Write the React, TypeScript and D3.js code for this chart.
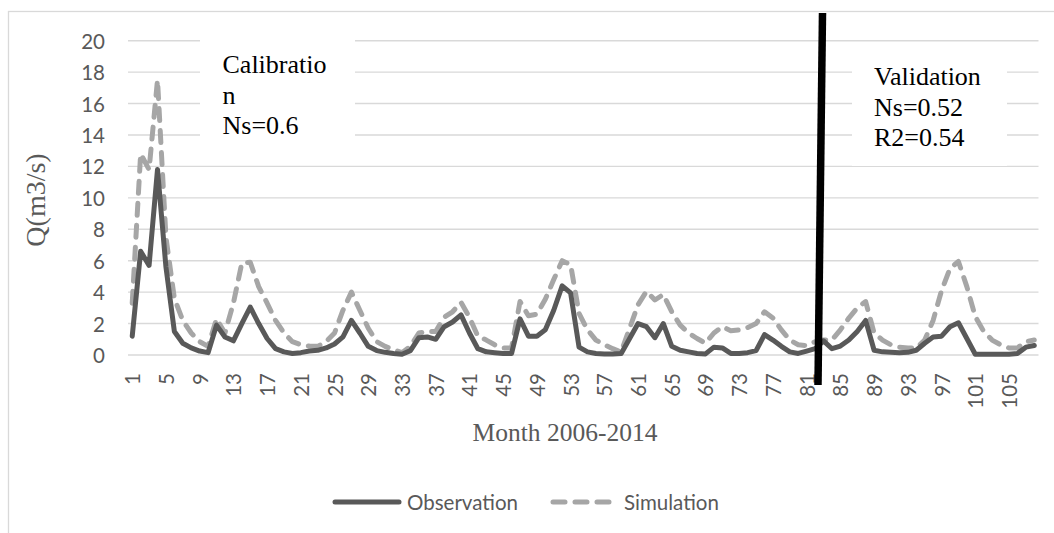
import React, { useRef, useEffect } from 'react';
import * as d3 from 'd3';

const months: number[] = Array.from({ length: 108 }, (_, i) => i + 1);

const observation: number[] = [
  1.2, 6.6, 5.7, 11.8, 5.6, 1.5, 0.75, 0.45, 0.25, 0.15,
  1.9, 1.15, 0.9, 2.0, 3.05, 2.0, 1.05, 0.4, 0.2, 0.1,
  0.15, 0.25, 0.3, 0.45, 0.7, 1.15, 2.2, 1.4, 0.55, 0.28,
  0.17, 0.1, 0.05, 0.28, 1.1, 1.15, 1.0, 1.8, 2.1, 2.55,
  1.4, 0.4, 0.2, 0.15, 0.1, 0.1, 2.3, 1.2, 1.2, 1.6,
  2.85, 4.4, 3.95, 0.5, 0.2, 0.1, 0.07, 0.07, 0.1, 1.05,
  2.0, 1.8, 1.1, 2.0, 0.55, 0.3, 0.2, 0.1, 0.07, 0.5,
  0.45, 0.1, 0.1, 0.15, 0.28, 1.3, 0.95, 0.55, 0.2, 0.1,
  0.25, 0.4, 0.9, 0.4, 0.57, 0.95, 1.5, 2.2, 0.3, 0.2,
  0.17, 0.15, 0.17, 0.3, 0.75, 1.15, 1.2, 1.8, 2.05, 1.05,
  0.05, 0.05, 0.05, 0.05, 0.05, 0.1, 0.5, 0.6,
];

const simulation: number[] = [
  3.3, 12.8, 11.8, 17.5, 7.5, 3.6, 2.2, 1.4, 0.85, 0.55,
  2.3, 1.4, 3.3, 5.85, 5.9, 4.35, 3.3, 2.2, 1.4, 0.85,
  0.65, 0.57, 0.55, 0.85, 1.4, 2.85, 4.0, 2.85, 1.7, 0.85,
  0.55, 0.33, 0.15, 0.55, 1.4, 1.5, 1.5, 2.4, 2.75, 3.35,
  2.4, 1.2, 0.95, 0.65, 0.45, 0.45, 3.4, 2.5, 2.6, 3.55,
  4.8, 6.0, 5.75, 2.65, 1.6, 0.95, 0.65, 0.4, 0.2, 1.7,
  3.2, 4.05, 3.5, 3.85, 2.75, 1.9, 1.4, 1.05, 0.75, 1.4,
  1.8, 1.55, 1.6, 1.75, 2.0, 2.75, 2.35, 1.6, 0.95, 0.65,
  0.6, 0.85, 0.95, 0.95, 1.6, 2.35, 3.0, 3.4, 1.4, 0.95,
  0.65, 0.5, 0.45, 0.45, 0.95, 2.2, 4.1, 5.5, 5.95, 4.35,
  2.45, 1.5, 0.95, 0.65, 0.45, 0.45, 0.85, 0.95,
];

const yTicks: number[] = [0, 2, 4, 6, 8, 10, 12, 14, 16, 18, 20];
const xTickLabels: number[] = months.filter((m) => (m - 1) % 4 === 0);

const calibrationText = ['Calibratio', 'n', 'Ns=0.6'];
const validationText = ['Validation', 'Ns=0.52', 'R2=0.54'];

const SANS = 'Lato, "Open Sans", sans-serif';
const SERIF = '"Liberation Serif", "Times New Roman", serif';

const App: React.FC = () => {
  const svgRef = useRef<SVGSVGElement>(null);

  useEffect(() => {
    if (!svgRef.current) return;
    const svg = d3.select(svgRef.current);
    svg.selectAll('*').remove();

    const x = d3.scaleBand<number>().domain(months).range([128, 1038.5]);
    const y = d3.scaleLinear().domain([0, 20]).range([355, 40.7]);
    const cx = (m: number) => (x(m) ?? 0) + x.bandwidth() / 2;

    // chart border
    svg.append('rect')
      .attr('x', 8.5).attr('y', 11.5)
      .attr('width', 1080).attr('height', 540)
      .attr('fill', '#fff')
      .attr('stroke', '#d9d9d9')
      .attr('stroke-width', 1.3);

    // gridlines
    svg.append('g')
      .selectAll('line')
      .data(yTicks)
      .join('line')
      .attr('x1', 128).attr('x2', 1038.5)
      .attr('y1', (d) => y(d)).attr('y2', (d) => y(d))
      .attr('stroke', '#d9d9d9')
      .attr('stroke-width', 1.4);

    // y tick labels
    svg.append('g')
      .selectAll('text')
      .data(yTicks)
      .join('text')
      .attr('x', 105)
      .attr('y', (d) => y(d))
      .attr('text-anchor', 'end')
      .attr('dominant-baseline', 'central')
      .attr('fill', '#595959')
      .style('font-family', SANS)
      .style('font-size', '20.5px')
      .text((d) => d);

    // x tick labels
    svg.append('g')
      .selectAll('text')
      .data(xTickLabels)
      .join('text')
      .attr('transform', (d) => `translate(${cx(d)},373) rotate(-90)`)
      .attr('text-anchor', 'end')
      .attr('dominant-baseline', 'central')
      .attr('fill', '#595959')
      .style('font-family', SANS)
      .style('font-size', '20.5px')
      .text((d) => d);

    // annotation boxes
    svg.append('rect').attr('x', 200).attr('y', 25).attr('width', 155).attr('height', 125).attr('fill', '#fff');
    svg.append('rect').attr('x', 852).attr('y', 55).attr('width', 155).attr('height', 111).attr('fill', '#fff');

    const addBlock = (lines: string[], left: number, base: number) => {
      lines.forEach((t, i) => {
        svg.append('text')
          .attr('x', left)
          .attr('y', base + i * 30.5)
          .attr('fill', '#000')
          .style('font-family', SERIF)
          .style('font-size', '26px')
          .text(t);
      });
    };
    addBlock(calibrationText, 222.5, 73);
    addBlock(validationText, 874, 85);

    // series
    const line = d3.line<number>()
      .x((_, i) => cx(months[i]))
      .y((d) => y(d));

    svg.append('path')
      .datum(simulation)
      .attr('fill', 'none')
      .attr('stroke', '#a6a6a6')
      .attr('stroke-width', 5)
      .attr('stroke-dasharray', '12 10')
      .attr('stroke-linecap', 'round')
      .attr('stroke-linejoin', 'round')
      .attr('d', line);

    svg.append('path')
      .datum(observation)
      .attr('fill', 'none')
      .attr('stroke', '#595959')
      .attr('stroke-width', 5)
      .attr('stroke-linecap', 'round')
      .attr('stroke-linejoin', 'round')
      .attr('d', line);

    // axis titles
    svg.append('text')
      .attr('transform', `translate(45,200) rotate(-90)`)
      .attr('text-anchor', 'middle')
      .attr('fill', '#595959')
      .style('font-family', SERIF)
      .style('font-size', '28px')
      .text('Q(m3/s)');

    svg.append('text')
      .attr('x', 565)
      .attr('y', 441)
      .attr('text-anchor', 'middle')
      .attr('fill', '#595959')
      .style('font-family', SERIF)
      .style('font-size', '25.5px')
      .text('Month 2006-2014');

    // legend
    const legend = svg.append('g').attr('transform', 'translate(0,502)');
    legend.append('line')
      .attr('x1', 335).attr('x2', 399).attr('y1', 0).attr('y2', 0)
      .attr('stroke', '#595959').attr('stroke-width', 5).attr('stroke-linecap', 'round');
    legend.append('text')
      .attr('x', 407).attr('y', 0)
      .attr('dominant-baseline', 'central')
      .attr('fill', '#595959')
      .style('font-family', SANS).style('font-size', '20.5px')
      .text('Observation');
    legend.append('line')
      .attr('x1', 553).attr('x2', 611).attr('y1', 0).attr('y2', 0)
      .attr('stroke', '#a6a6a6').attr('stroke-width', 5).attr('stroke-linecap', 'round')
      .attr('stroke-dasharray', '12 10');
    legend.append('text')
      .attr('x', 624).attr('y', 0)
      .attr('dominant-baseline', 'central')
      .attr('fill', '#595959')
      .style('font-family', SANS).style('font-size', '20.5px')
      .text('Simulation');

    // calibration / validation split
    svg.append('line')
      .attr('x1', 822.5).attr('y1', 13)
      .attr('x2', 818).attr('y2', 385)
      .attr('stroke', '#000')
      .attr('stroke-width', 7.5);
  }, []);

  return (
    <svg
      ref={svgRef}
      width={1054}
      height={533}
      style={{ position: 'absolute', left: 0, top: 0, background: '#fff' }}
    />
  );
};

export default App;
